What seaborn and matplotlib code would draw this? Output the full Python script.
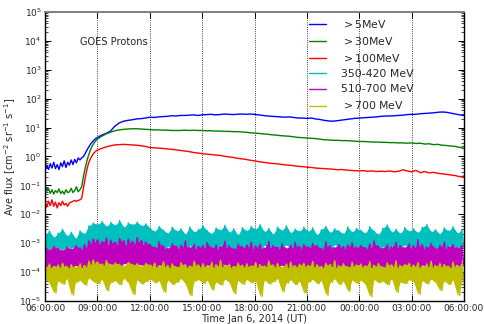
import numpy as np
import pandas as pd
import matplotlib
matplotlib.use("Agg")
import matplotlib.pyplot as plt
import matplotlib.dates as mdates
from matplotlib.ticker import LogLocator, LogFormatterMathtext, NullFormatter
import seaborn as sns

START = pd.Timestamp("2014-01-06 06:00:00")

# ---------------------------------------------------------------------------
# Integral channels (log10 of flux), hours after 06:00 UT.
# Sampled every 6 min through the onset, every 15 min afterwards.
smooth_hours = np.concatenate([np.round(np.arange(0, 3.01, 0.1), 2),
                               np.arange(3.25, 24.01, 0.25)])

gt5_log = [
    -0.50, -0.30, -0.45, -0.25, -0.40, -0.20, -0.42, -0.28, -0.45, -0.22,
    -0.35, -0.15, -0.38, -0.20, -0.30, -0.12, -0.28, -0.10, -0.22, -0.05,
    -0.12, -0.05, 0.00, 0.10, 0.22, 0.32, 0.42, 0.50, 0.56, 0.62, 0.66,
    0.74, 0.80, 0.88, 1.05, 1.16, 1.22, 1.25, 1.27, 1.30, 1.31, 1.33, 1.36,
    1.35, 1.37, 1.38, 1.39, 1.41, 1.40, 1.42, 1.42, 1.43, 1.44, 1.42, 1.44,
    1.45, 1.46, 1.44, 1.45, 1.47, 1.46, 1.45, 1.46, 1.47, 1.46, 1.47, 1.46,
    1.44, 1.42, 1.40, 1.39, 1.38, 1.37, 1.36, 1.37, 1.35, 1.33, 1.33, 1.32,
    1.33, 1.30, 1.28, 1.25, 1.23, 1.22, 1.24, 1.26, 1.28, 1.30, 1.32, 1.33,
    1.34, 1.35, 1.36, 1.37, 1.39, 1.40, 1.40, 1.41, 1.42, 1.43, 1.45, 1.46,
    1.46, 1.48, 1.49, 1.50, 1.51, 1.53, 1.54, 1.53, 1.50, 1.47, 1.44, 1.42,
]

gt30_log = [
    -1.05, -1.20, -1.10, -1.28, -1.15, -1.30, -1.18, -1.25, -1.12, -1.28,
    -1.20, -1.30, -1.15, -1.25, -1.22, -1.10, -1.25, -1.18, -1.05, -1.22,
    -1.15, -1.05, -0.70, -0.40, -0.15, 0.05, 0.22, 0.36, 0.46, 0.54, 0.60,
    0.70, 0.78, 0.84, 0.89, 0.92, 0.94, 0.95, 0.96, 0.96, 0.95, 0.94, 0.93,
    0.92, 0.92, 0.91, 0.91, 0.90, 0.90, 0.90, 0.91, 0.90, 0.91, 0.90, 0.90,
    0.89, 0.89, 0.88, 0.88, 0.87, 0.87, 0.86, 0.86, 0.85, 0.84, 0.82, 0.81,
    0.80, 0.78, 0.77, 0.75, 0.74, 0.72, 0.71, 0.70, 0.68, 0.66, 0.65, 0.64,
    0.63, 0.62, 0.60, 0.58, 0.57, 0.56, 0.56, 0.55, 0.55, 0.54, 0.53, 0.52,
    0.52, 0.51, 0.50, 0.50, 0.49, 0.49, 0.48, 0.48, 0.47, 0.47, 0.46, 0.47,
    0.45, 0.46, 0.43, 0.44, 0.41, 0.42, 0.39, 0.38, 0.36, 0.35, 0.31, 0.34,
]

gt100_log = [
    -1.55, -1.75, -1.55, -1.70, -1.50, -1.72, -1.58, -1.78, -1.60, -1.70,
    -1.55, -1.68, -1.62, -1.72, -1.60, -1.58, -1.55, -1.52, -1.55, -1.52,
    -1.50, -1.45, -1.10, -0.75, -0.45, -0.22, -0.08, 0.03, 0.12, 0.18, 0.22,
    0.28, 0.33, 0.37, 0.40, 0.41, 0.42, 0.41, 0.40, 0.39, 0.37, 0.35, 0.31,
    0.30, 0.29, 0.28, 0.26, 0.25, 0.23, 0.21, 0.19, 0.17, 0.14, 0.12, 0.10,
    0.08, 0.07, 0.05, 0.04, 0.01, -0.01, -0.03, -0.06, -0.08, -0.10, -0.13, -0.15,
    -0.18, -0.20, -0.22, -0.24, -0.25, -0.27, -0.29, -0.30, -0.32, -0.34, -0.35, -0.37,
    -0.38, -0.40, -0.41, -0.42, -0.43, -0.44, -0.46, -0.45, -0.47, -0.48, -0.49, -0.50,
    -0.49, -0.51, -0.50, -0.52, -0.51, -0.52, -0.50, -0.53, -0.51, -0.46, -0.50, -0.53,
    -0.48, -0.56, -0.52, -0.57, -0.55, -0.58, -0.60, -0.62, -0.64, -0.66, -0.70, -0.68,
]

# ---------------------------------------------------------------------------
# Differential high-energy channels (log10 of flux): peak / trough readings,
# every 15 min from 06:00 UT.
c350_hi = [
    -2.70, -2.58, -2.80, -2.65, -2.52, -2.75, -2.62, -2.84, -2.57, -2.68, -2.40, -2.30,
    -2.35, -2.25, -2.42, -2.28, -2.38, -2.22, -2.45, -2.30, -2.36, -2.27, -2.40, -2.33,
    -2.48, -2.60, -2.42, -2.55, -2.66, -2.45, -2.58, -2.50, -2.70, -2.44, -2.62, -2.52,
    -2.40, -2.57, -2.68, -2.47, -2.55, -2.38, -2.63, -2.50, -2.72, -2.46, -2.58, -2.42,
    -2.52, -2.36, -2.61, -2.49, -2.70, -2.44, -2.56, -2.40, -2.65, -2.51, -2.59, -2.45,
    -2.60, -2.47, -2.72, -2.53, -2.42, -2.64, -2.50, -2.57, -2.68, -2.44, -2.62, -2.49,
    -2.55, -2.66, -2.43, -2.58, -2.70, -2.48, -2.37, -2.62, -2.52, -2.67, -2.46, -2.59,
    -2.50, -2.64, -2.45, -2.36, -2.61, -2.53, -2.69, -2.47, -2.58, -2.43, -2.66, -2.54,
]
c350_lo = [
    -3.15, -3.20, -3.10, -3.18, -3.22, -3.12, -3.17, -3.09, -3.21, -3.14, -3.00, -2.96,
    -3.02, -2.94, -3.05, -2.98, -3.03, -2.92, -3.06, -2.97, -3.01, -2.95, -3.04, -3.00,
    -3.10, -3.16, -3.07, -3.19, -3.12, -3.05, -3.18, -3.11, -3.15, -3.08, -3.20, -3.13,
    -3.17, -3.09, -3.14, -3.21, -3.06, -3.15, -3.11, -3.19, -3.08, -3.16, -3.12, -3.18,
    -3.13, -3.19, -3.07, -3.15, -3.10, -3.20, -3.12, -3.06, -3.17, -3.11, -3.18, -3.09,
    -3.16, -3.08, -3.13, -3.20, -3.11, -3.17, -3.05, -3.14, -3.19, -3.10, -3.15, -3.12,
    -3.11, -3.18, -3.14, -3.07, -3.16, -3.12, -3.20, -3.09, -3.15, -3.13, -3.06, -3.17,
    -3.14, -3.10, -3.19, -3.12, -3.08, -3.16, -3.11, -3.18, -3.07, -3.15, -3.13, -3.17,
]

c510_hi = [
    -3.15, -3.22, -3.10, -3.18, -3.25, -3.12, -3.20, -3.08, -3.17, -3.05, -2.92, -2.85,
    -2.88, -2.95, -2.82, -2.90, -2.97, -2.84, -2.92, -2.86, -2.94, -2.80, -2.91, -2.96,
    -3.05, -3.14, -2.95, -3.10, -3.18, -3.02, -3.12, -3.07, -2.92, -3.15, -3.04, -3.11,
    -3.08, -2.98, -3.16, -3.06, -3.12, -2.93, -3.10, -3.19, -3.03, -3.13, -3.06, -2.96,
    -3.11, -3.04, -3.17, -2.94, -3.09, -3.14, -3.02, -3.18, -3.07, -2.97, -3.12, -3.05,
    -3.13, -3.01, -3.08, -3.19, -2.95, -3.10, -3.15, -3.04, -3.12, -3.06, -2.99, -3.14,
    -3.07, -3.16, -3.03, -2.92, -3.11, -3.17, -3.05, -3.13, -2.97, -3.09, -3.15, -3.02,
    -3.10, -2.88, -3.06, -3.14, -3.01, -3.18, -3.08, -2.96, -3.12, -3.04, -3.16, -3.07,
]
c510_lo = [
    -3.80, -3.84, -3.78, -3.83, -3.79, -3.85, -3.81, -3.77, -3.84, -3.80, -3.72, -3.68,
    -3.70, -3.75, -3.67, -3.73, -3.69, -3.77, -3.71, -3.66, -3.74, -3.72, -3.76, -3.70,
    -3.78, -3.82, -3.75, -3.80, -3.84, -3.77, -3.81, -3.74, -3.83, -3.79, -3.76, -3.82,
    -3.80, -3.75, -3.83, -3.78, -3.81, -3.73, -3.84, -3.79, -3.77, -3.82, -3.80, -3.76,
    -3.83, -3.77, -3.80, -3.74, -3.82, -3.79, -3.76, -3.84, -3.78, -3.81, -3.75, -3.80,
    -3.77, -3.82, -3.79, -3.84, -3.75, -3.80, -3.83, -3.78, -3.76, -3.81, -3.79, -3.74,
    -3.81, -3.76, -3.84, -3.79, -3.77, -3.82, -3.75, -3.80, -3.83, -3.78, -3.74, -3.81,
    -3.79, -3.83, -3.76, -3.80, -3.82, -3.77, -3.81, -3.75, -3.84, -3.79, -3.78, -3.80,
]

gt700_hi = [
    -3.78, -3.72, -3.82, -3.75, -3.69, -3.80, -3.74, -3.83, -3.71, -3.77, -3.62, -3.58,
    -3.65, -3.72, -3.60, -3.76, -3.68, -3.73, -3.79, -3.66, -3.74, -3.70, -3.81, -3.69,
    -3.75, -3.68, -3.80, -3.64, -3.77, -3.71, -3.83, -3.67, -3.74, -3.79, -3.62, -3.76,
    -3.70, -3.81, -3.66, -3.75, -3.59, -3.78, -3.72, -3.82, -3.68, -3.76, -3.71, -3.80,
    -3.67, -3.74, -3.79, -3.61, -3.76, -3.70, -3.83, -3.72, -3.65, -3.78, -3.73, -3.69,
    -3.77, -3.63, -3.75, -3.80, -3.69, -3.74, -3.60, -3.79, -3.71, -3.82, -3.66, -3.76,
    -3.72, -3.79, -3.64, -3.77, -3.70, -3.83, -3.68, -3.75, -3.61, -3.78, -3.73, -3.69,
    -3.76, -3.67, -3.81, -3.72, -3.62, -3.78, -3.70, -3.74, -3.80, -3.65, -3.77, -3.71,
]
gt700_lo = [
    -4.25, -4.38, -4.72, -4.30, -4.42, -4.22, -4.80, -4.35, -4.28, -4.45, -4.20, -4.33,
    -4.40, -4.24, -4.65, -4.36, -4.29, -4.44, -4.21, -4.38, -4.78, -4.26, -4.41, -4.32,
    -4.23, -4.37, -4.30, -4.70, -4.27, -4.43, -4.35, -4.22, -4.40, -4.82, -4.31, -4.26,
    -4.39, -4.28, -4.62, -4.34, -4.45, -4.24, -4.36, -4.75, -4.29, -4.42, -4.25, -4.37,
    -4.30, -4.84, -4.27, -4.41, -4.33, -4.22, -4.68, -4.38, -4.26, -4.44, -4.31, -4.73,
    -4.35, -4.24, -4.40, -4.29, -4.80, -4.36, -4.23, -4.43, -4.32, -4.66, -4.27, -4.39,
    -4.28, -4.42, -4.85, -4.25, -4.37, -4.31, -4.44, -4.22, -4.70, -4.34, -4.40, -4.26,
    -4.33, -4.77, -4.29, -4.41, -4.24, -4.36, -4.64, -4.30, -4.43, -4.27, -4.81, -4.35,
]

labels = ["$>$5MeV", "$>$30MeV", "$>$100MeV", "350-420 MeV", "510-700 MeV", "$>$700 MeV"]
colors = ["#0000ff", "#008000", "#ff0000", "#00bfbf", "#bf00bf", "#bfbf00"]


def interleave(hi, lo):
    v = np.empty(2 * len(hi))
    v[0::2] = hi
    v[1::2] = lo
    return v


def to_times(hours):
    return START + pd.to_timedelta(np.asarray(hours), unit="h")


smooth_t = to_times(smooth_hours)
for s in (gt5_log, gt30_log, gt100_log):
    assert len(s) == len(smooth_hours), (len(s), len(smooth_hours))

bands = [(c350_hi, c350_lo), (c510_hi, c510_lo), (gt700_hi, gt700_lo)]
n_band = len(c350_hi)
band_hours = np.linspace(0, 24, 2 * n_band)
band_t = to_times(band_hours)

frames = []
for lab, vals in zip(labels[:3], (gt5_log, gt30_log, gt100_log)):
    frames.append(pd.DataFrame({"time": smooth_t, "flux": 10 ** np.asarray(vals), "channel": lab}))
for lab, (hi, lo) in zip(labels[3:], bands):
    frames.append(pd.DataFrame({"time": band_t, "flux": 10 ** interleave(hi, lo), "channel": lab}))
df = pd.concat(frames, ignore_index=True)

# ---------------------------------------------------------------------------
sns.set_theme(style="white", rc={
    "axes.edgecolor": "black",
    "axes.linewidth": 1.0,
    "xtick.direction": "in",
    "ytick.direction": "in",
    "xtick.top": True,
    "ytick.right": True,
    "xtick.bottom": True,
    "ytick.left": True,
})
plt.rcParams["font.family"] = ["DejaVu Sans"]

fig, ax = plt.subplots(figsize=(4.85, 3.24), dpi=100)
fig.subplots_adjust(left=0.0928, right=0.9567, bottom=0.071, top=0.963)

widths = [0.9, 0.9, 0.9, 1.0, 1.0, 1.0]
for lab, col, lw in zip(labels, colors, widths):
    sub = df[df["channel"] == lab]
    sns.lineplot(data=sub, x="time", y="flux", color=col, lw=lw, label=lab,
                 estimator=None, sort=False, ax=ax)

# solid body of each noisy channel between its peak and trough readings
for (hi, lo), col in zip(bands, colors[3:]):
    peak_t = band_t[0::2]
    ax.fill_between(peak_t, 10 ** np.asarray(lo), 10 ** np.asarray(hi),
                    color=col, linewidth=0)

ax.set_yscale("log")
ax.set_ylim(1e-5, 1e5)
ax.set_xlim(START, START + pd.Timedelta(hours=24))
ax.yaxis.set_major_locator(LogLocator(base=10, numticks=20))
ax.yaxis.set_major_formatter(LogFormatterMathtext())
ax.yaxis.set_minor_locator(LogLocator(base=10, subs=np.arange(2, 10), numticks=100))
ax.yaxis.set_minor_formatter(NullFormatter())

ax.xaxis.set_major_locator(mdates.HourLocator(byhour=range(0, 24, 3)))
ax.xaxis.set_major_formatter(mdates.DateFormatter("%H:%M:%S"))

ax.tick_params(which="major", length=4, width=0.7, labelsize=6.5, pad=2.5, color="black")
ax.tick_params(which="minor", length=2, width=0.5, color="black")

ax.xaxis.grid(True, color="black", linestyle=":", linewidth=0.6)
ax.yaxis.grid(False)

for side in ("left", "bottom", "right"):
    ax.spines[side].set_color("black")
    ax.spines[side].set_linewidth(1.0)
ax.spines["top"].set_color("#7f7f7f")
ax.spines["top"].set_linewidth(1.4)

ax.set_xlabel("Time Jan 6, 2014 (UT)", fontsize=7, labelpad=0.5)
ax.set_ylabel("Ave flux [cm$^{-2}$ sr$^{-1}$ s$^{-1}$]", fontsize=7)
ax.yaxis.set_label_coords(-0.064, 0.5)

ax.text(0.0835, 0.896, "GOES Protons", transform=ax.transAxes, fontsize=7.1,
        ha="left", va="center")

handles, labs = ax.get_legend_handles_labels()
for h in handles:
    h.set_linewidth(1.0)
leg = ax.legend(handles, labs, loc="upper left", bbox_to_anchor=(309 / 485, 1 - 18 / 324),
                bbox_transform=fig.transFigure, frameon=False, fontsize=7.8,
                handlelength=1.6, handletextpad=1.35, labelspacing=0.47,
                borderpad=0.0, borderaxespad=0.0)

fig.savefig("out.png", dpi=100)
